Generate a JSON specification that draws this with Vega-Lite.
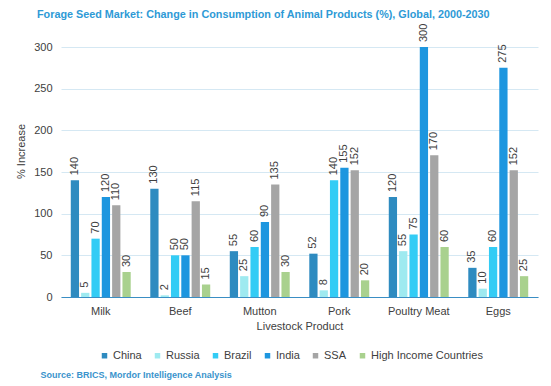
{
  "$schema": "https://vega.github.io/schema/vega-lite/v6.json",
  "width": 477,
  "height": 250,
  "autosize": "none",
  "padding": {"left": 61, "top": 47, "right": 13, "bottom": 89},
  "background": "white",
  "config": {
    "font": "Liberation Sans",
    "view": {"stroke": null}
  },
  "title": {
    "text": "Forage Seed Market: Change in Consumption of Animal Products (%), Global, 2000-2030",
    "fontSize": 10.8,
    "fontWeight": "bold",
    "color": "#2E9AD6",
    "anchor": "start",
    "frame": "group",
    "dx": -24,
    "offset": 4
  },
  "data": {
    "values": [
      {"product": "Milk", "region": "China", "value": 140},
      {"product": "Milk", "region": "Russia", "value": 5},
      {"product": "Milk", "region": "Brazil", "value": 70},
      {"product": "Milk", "region": "India", "value": 120},
      {"product": "Milk", "region": "SSA", "value": 110},
      {"product": "Milk", "region": "High Income Countries", "value": 30},
      {"product": "Beef", "region": "China", "value": 130},
      {"product": "Beef", "region": "Russia", "value": 2},
      {"product": "Beef", "region": "Brazil", "value": 50},
      {"product": "Beef", "region": "India", "value": 50},
      {"product": "Beef", "region": "SSA", "value": 115},
      {"product": "Beef", "region": "High Income Countries", "value": 15},
      {"product": "Mutton", "region": "China", "value": 55},
      {"product": "Mutton", "region": "Russia", "value": 25},
      {"product": "Mutton", "region": "Brazil", "value": 60},
      {"product": "Mutton", "region": "India", "value": 90},
      {"product": "Mutton", "region": "SSA", "value": 135},
      {"product": "Mutton", "region": "High Income Countries", "value": 30},
      {"product": "Pork", "region": "China", "value": 52},
      {"product": "Pork", "region": "Russia", "value": 8},
      {"product": "Pork", "region": "Brazil", "value": 140},
      {"product": "Pork", "region": "India", "value": 155},
      {"product": "Pork", "region": "SSA", "value": 152},
      {"product": "Pork", "region": "High Income Countries", "value": 20},
      {"product": "Poultry Meat", "region": "China", "value": 120},
      {"product": "Poultry Meat", "region": "Russia", "value": 55},
      {"product": "Poultry Meat", "region": "Brazil", "value": 75},
      {"product": "Poultry Meat", "region": "India", "value": 300},
      {"product": "Poultry Meat", "region": "SSA", "value": 170},
      {"product": "Poultry Meat", "region": "High Income Countries", "value": 60},
      {"product": "Eggs", "region": "China", "value": 35},
      {"product": "Eggs", "region": "Russia", "value": 10},
      {"product": "Eggs", "region": "Brazil", "value": 60},
      {"product": "Eggs", "region": "India", "value": 275},
      {"product": "Eggs", "region": "SSA", "value": 152},
      {"product": "Eggs", "region": "High Income Countries", "value": 25}
    ]
  },
  "encoding": {
    "x": {
      "field": "product",
      "type": "nominal",
      "sort": ["Milk", "Beef", "Mutton", "Pork", "Poultry Meat", "Eggs"],
      "scale": {"paddingInner": 0.22, "paddingOuter": 0.11}
    },
    "xOffset": {
      "field": "region",
      "type": "nominal",
      "sort": ["China", "Russia", "Brazil", "India", "SSA", "High Income Countries"],
      "scale": {"paddingInner": 0.2, "paddingOuter": 0.1}
    },
    "y": {
      "field": "value",
      "type": "quantitative",
      "scale": {"domain": [0, 300], "nice": false},
      "axis": {
        "title": "% Increase",
        "titleFontSize": 11,
        "titleFontWeight": "normal",
        "titleColor": "#404040",
        "titleX": -40,
        "titleY": 104,
        "titleBaseline": "middle",
        "values": [0, 50, 100, 150, 200, 250, 300],
        "domain": false,
        "ticks": false,
        "labelPadding": 9,
        "labelFontSize": 11,
        "labelColor": "#404040",
        "gridColor": "#D5E8F3",
        "gridWidth": 1
      }
    }
  },
  "layer": [
    {
      "mark": {"type": "bar"},
      "encoding": {
        "x": {
          "field": "product",
          "type": "nominal",
          "sort": ["Milk", "Beef", "Mutton", "Pork", "Poultry Meat", "Eggs"],
          "axis": {
            "title": "Livestock Product",
            "titleFontSize": 11,
            "titleFontWeight": "normal",
            "titleColor": "#404040",
            "titlePadding": 4,
            "labelAngle": 0,
            "labelFontSize": 11,
            "labelColor": "#404040",
            "labelPadding": 8,
            "ticks": false,
            "domainColor": "#3A8EC4",
            "domainWidth": 1
          }
        },
        "color": {
          "field": "region",
          "type": "nominal",
          "sort": ["China", "Russia", "Brazil", "India", "SSA", "High Income Countries"],
          "scale": {
            "domain": ["China", "Russia", "Brazil", "India", "SSA", "High Income Countries"],
            "range": ["#2E8BC0", "#9EEAF0", "#33CCF5", "#1D96DF", "#A5A5A5", "#A9D18E"]
          },
          "legend": {
            "title": null,
            "orient": "none",
            "direction": "horizontal",
            "legendX": 38,
            "legendY": 303,
            "symbolType": "square",
            "symbolSize": 30,
            "symbolStrokeWidth": 0,
            "labelFontSize": 11,
            "labelColor": "#404040",
            "labelOffset": 3,
            "columnPadding": 10
          }
        }
      }
    },
    {
      "mark": {"type": "text", "angle": -90, "align": "left", "baseline": "middle", "dx": 5, "fontSize": 11, "color": "#404040"},
      "encoding": {
        "x": {
          "field": "product",
          "type": "nominal",
          "sort": ["Milk", "Beef", "Mutton", "Pork", "Poultry Meat", "Eggs"],
          "axis": {
            "orient": "bottom",
            "title": "Source: BRICS, Mordor Intelligence Analysis",
            "titleFontSize": 9,
            "titleFontWeight": "bold",
            "titleColor": "#3A93CC",
            "titleAnchor": "start",
            "titleAlign": "left",
            "titleX": -21,
            "titleY": 73,
            "labels": false,
            "ticks": false,
            "domain": false,
            "grid": false
          }
        },
        "text": {"field": "value", "type": "quantitative"}
      }
    }
  ],
  "resolve": {"axis": {"x": "independent"}}
}
